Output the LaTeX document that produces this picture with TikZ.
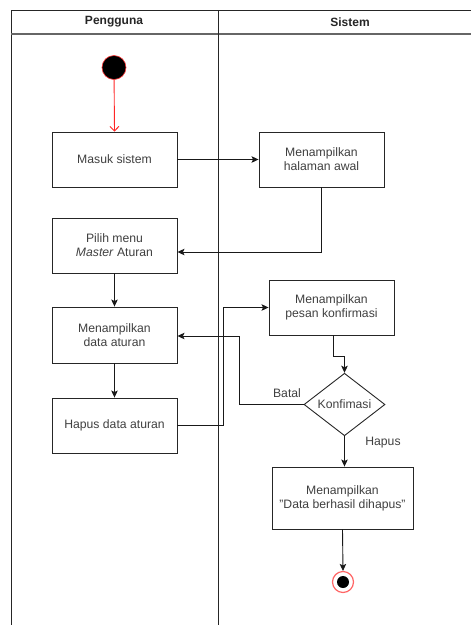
\documentclass[tikz,border=0pt]{standalone}
\usepackage{fontspec}
\setmainfont{Liberation Sans}
\usetikzlibrary{shapes.geometric,arrows.meta,calc}
\tikzset{
  actbox/.style={draw=black!85, line width=0.9pt, fill=white, minimum width=125pt, minimum height=55pt, inner sep=2pt, align=center, text=black!75, font=\fontsize{12.2}{14}\selectfont},
  flow/.style={draw=black!90, line width=0.9pt, -{Stealth[length=7pt,width=6.5pt,inset=1.5pt]}},
  lane/.style={draw=black!85, line width=1pt},
  lbl/.style={text=black!75, font=\fontsize{12.2}{14}\selectfont, inner sep=1pt},
  hdr/.style={text=black!85, font=\bfseries\fontsize{12}{14}\selectfont}
}
\begin{document}
\begin{tikzpicture}[x=1pt,y=-1pt]
\useasboundingbox (0,0) rectangle (471,625);
% swimlanes
\draw[lane] (11,625) -- (11,10) -- (471,10);
\draw[lane, draw=black!60, line width=1.3pt] (11,34) -- (471,34);
\draw[lane] (218,10) -- (218,625);
\node[hdr] (hp) at (114,22) {Pengguna};
\node[hdr] (hs) at (350,22) {Sistem};
% nodes
\node[circle, fill=black, draw=red!80, line width=0.6pt, minimum size=24pt, inner sep=0] (start) at (114,67.5) {};
\node[actbox] (masuk) at (114.5,159.5) {Masuk sistem};
\node[actbox] (awal) at (321.5,159.5) {Menampilkan\\halaman awal};
\node[actbox] (pilih) at (114.5,245.5) {Pilih menu\\\textit{Master} Aturan};
\node[actbox, minimum height=56pt] (data) at (114.5,335) {Menampilkan\\data aturan};
\node[actbox] (hapus) at (114.5,425.5) {Hapus data aturan};
\node[actbox] (pesan) at (331.5,307.5) {Menampilkan\\pesan konfirmasi};
\node[diamond, draw=black!85, line width=0.9pt, minimum width=81pt, minimum height=57pt, inner sep=0pt, text=black!75, font=\fontsize{12.2}{14}\selectfont] (konf) at (344.5,404.5) {Konfimasi};
\node[actbox, minimum width=141pt, minimum height=62pt] (final) at (342.5,498) {Menampilkan\\\char34 Data berhasil dihapus\char34};
\node[circle, draw=red!60, line width=1.2pt, minimum size=21pt, inner sep=0] (end) at (343,582) {};
\node[circle, fill=black, minimum size=12pt, inner sep=0] (endin) at (343,582) {};
% connectors
\draw[draw=red!85, line width=0.9pt, -{Straight Barb[length=4.5pt,width=9pt]}] (start) -- (masuk.north);
\draw[flow] (masuk.east) -- (awal.west);
\draw[flow] (awal.south) |- ($(pilih.east)+(0,6.5)$);
\draw[flow] (pilih.south) -- (data.north);
\draw[flow] (data.south) -- (hapus.north);
\draw[flow] (hapus.east) -- ++(46,0) |- (pesan.west);
\draw[flow] ($(pesan.south)+(1.5,0)$) -- ++(0,21) -| (konf.north);
\draw[flow] (konf.west) -- ++(-64,0) |- ($(data.east)+(0,1)$);
\draw[flow] (konf.south) -- (konf.south |- final.north);
\draw[flow] (final.south) -- (end.north);
% labels
\node[lbl] (batal) at (287,393) {Batal};
\node[lbl] (hapuslbl) at (383,443) {Hapus};
\end{tikzpicture}
\end{document}
